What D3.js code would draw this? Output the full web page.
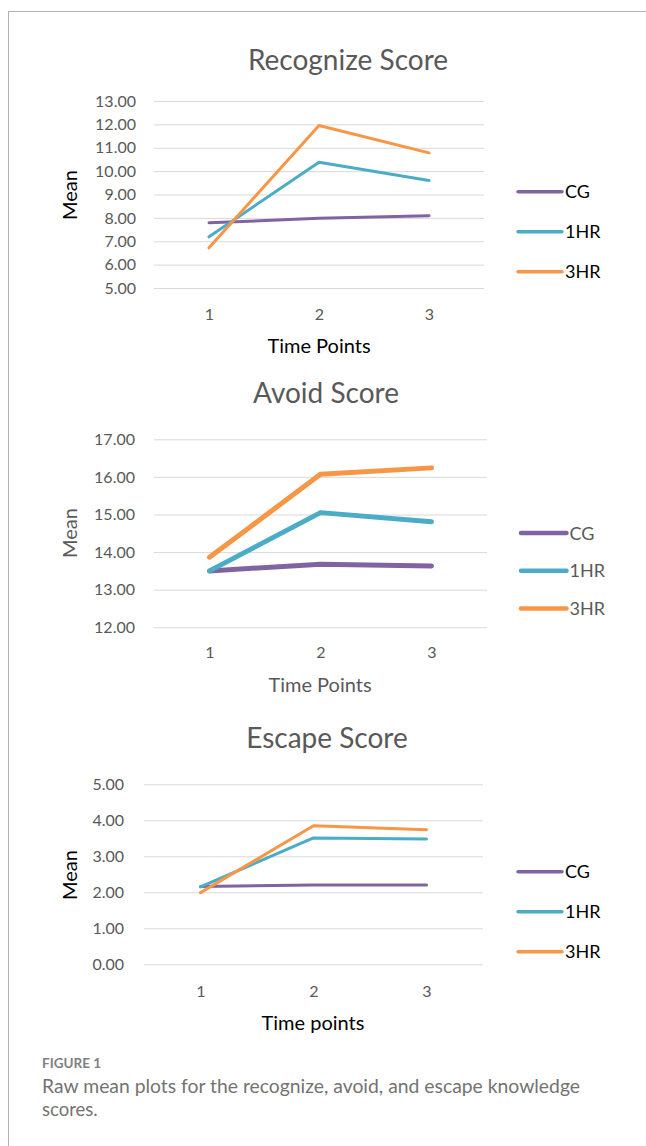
<!DOCTYPE html>
<html>
<head>
<meta charset="utf-8">
<script src="https://cdn.jsdelivr.net/npm/d3@7"></script>
<style>
  html, body { margin: 0; padding: 0; background: #fff; }
  svg { display: block; }
</style>
</head>
<body>
<svg id="fig" width="646" height="1146"></svg>
<script>
// Time points shared by all three panels
const timePoints = ["1", "2", "3"];
const groups = ["CG", "1HR", "3HR"];

// Recognize score means
const recognizeCG  = [7.79, 7.98, 8.09];
const recognize1HR = [7.19, 10.38, 9.60];
const recognize3HR = [6.72, 11.95, 10.78];
const recognizeTicks = [5, 6, 7, 8, 9, 10, 11, 12, 13];

// Avoid score means
const avoidCG  = [13.50, 13.68, 13.63];
const avoid1HR = [13.50, 15.05, 14.81];
const avoid3HR = [13.86, 16.07, 16.24];
const avoidTicks = [12, 13, 14, 15, 16, 17];

// Escape score means
const escapeCG  = [2.16, 2.20, 2.20];
const escape1HR = [2.15, 3.51, 3.48];
const escape3HR = [1.99, 3.85, 3.74];
const escapeTicks = [0, 1, 2, 3, 4, 5];

const colors = { "CG": "#8064a2", "1HR": "#4bacc6", "3HR": "#f79646" };
const FONT = "Lato, 'Open Sans', sans-serif";

const svg = d3.select("#fig");

// Frame: thin rule across the top and down the left side
svg.append("line").attr("x1", 8).attr("x2", 646).attr("y1", 11.5).attr("y2", 11.5)
  .attr("stroke", "#b0b0b0").attr("stroke-width", 1);
svg.append("line").attr("x1", 8.5).attr("x2", 8.5).attr("y1", 11).attr("y2", 1146)
  .attr("stroke", "#b0b0b0").attr("stroke-width", 1);

function drawPanel(p) {
  const g = svg.append("g");
  const y = d3.scaleLinear().domain(p.domain).range([p.bottom, p.top]);
  const x = d3.scalePoint().domain(timePoints).range([p.left, p.right]).padding(0.5);

  // Title
  g.append("text").attr("x", p.titleX).attr("y", p.titleY)
    .attr("text-anchor", "middle").attr("font-family", FONT)
    .attr("font-size", 28).attr("fill", "#595959").text(p.title);

  // Horizontal gridlines with value labels
  const yAxis = d3.axisLeft(y).tickValues(p.ticks).tickSize(-(p.right - p.left))
    .tickFormat(d3.format(".2f")).tickPadding(18);
  const ya = g.append("g").attr("transform", `translate(${p.left},0)`).call(yAxis);
  ya.select(".domain").remove();
  ya.selectAll(".tick line").attr("stroke", "#d9d9d9").attr("stroke-width", 1);
  ya.selectAll(".tick text").attr("font-family", FONT).attr("font-size", 16)
    .attr("fill", "#595959").attr("x", p.tickLabelRight - p.left);

  // Time point labels
  const xAxis = d3.axisBottom(x).tickSize(0).tickPadding(0);
  const xa = g.append("g").attr("transform", `translate(0,${p.bottom})`).call(xAxis);
  xa.select(".domain").remove();
  xa.selectAll(".tick text").attr("font-family", FONT).attr("font-size", 16)
    .attr("fill", "#595959").attr("dy", 0).attr("y", p.xTickY - p.bottom);

  // Axis titles
  g.append("text").attr("x", p.xTitleX).attr("y", p.xTitleY)
    .attr("text-anchor", "middle").attr("font-family", FONT)
    .attr("font-size", 20).attr("fill", p.axisTitleColor).text(p.xTitle);
  g.append("text")
    .attr("transform", `translate(${p.yTitleX},${p.yTitleY}) rotate(-90)`)
    .attr("text-anchor", "middle").attr("font-family", FONT)
    .attr("font-size", 20).attr("fill", p.axisTitleColor).text("Mean");

  // Series lines
  const line = d3.line().x((d, i) => x(timePoints[i])).y(d => y(d));
  groups.forEach((name, k) => {
    g.append("path").datum(p.series[k])
      .attr("d", line).attr("fill", "none")
      .attr("stroke", colors[name]).attr("stroke-width", p.lineWidth)
      .attr("stroke-linecap", "round").attr("stroke-linejoin", "round");
  });

  // Legend
  groups.forEach((name, k) => {
    const ly = p.legendY + k * p.legendGap;
    g.append("line").attr("x1", p.legendX1).attr("x2", p.legendX2)
      .attr("y1", ly).attr("y2", ly)
      .attr("stroke", colors[name]).attr("stroke-width", p.legendWidth)
      .attr("stroke-linecap", "round");
    g.append("text").attr("x", p.legendX2 + 3).attr("y", ly + 6.5)
      .attr("font-family", FONT).attr("font-size", 18)
      .attr("fill", p.legendColor).text(name);
  });
}

drawPanel({
  title: "Recognize Score", titleX: 348, titleY: 70,
  domain: [5, 13], ticks: recognizeTicks,
  top: 101, bottom: 288, left: 154, right: 484, tickLabelRight: 136,
  xTickY: 320, xTitle: "Time Points", xTitleX: 319, xTitleY: 353,
  yTitleX: 77, yTitleY: 195, axisTitleColor: "#000",
  series: [recognizeCG, recognize1HR, recognize3HR], lineWidth: 3,
  legendX1: 518, legendX2: 562, legendY: 191.7, legendGap: 40, legendWidth: 3.5,
  legendColor: "#000"
});

drawPanel({
  title: "Avoid Score", titleX: 326, titleY: 403,
  domain: [12, 17], ticks: avoidTicks,
  top: 439.3, bottom: 627.3, left: 154, right: 487, tickLabelRight: 135,
  xTickY: 658, xTitle: "Time Points", xTitleX: 320, xTitleY: 692,
  yTitleX: 77, yTitleY: 533, axisTitleColor: "#595959",
  series: [avoidCG, avoid1HR, avoid3HR], lineWidth: 5,
  legendX1: 521, legendX2: 566.5, legendY: 533, legendGap: 37.7, legendWidth: 4.5,
  legendColor: "#595959"
});

drawPanel({
  title: "Escape Score", titleX: 327, titleY: 748,
  domain: [0, 5], ticks: escapeTicks,
  top: 784.3, bottom: 964.3, left: 144, right: 483, tickLabelRight: 124,
  xTickY: 997, xTitle: "Time points", xTitleX: 313, xTitleY: 1030,
  yTitleX: 77, yTitleY: 875, axisTitleColor: "#000",
  series: [escapeCG, escape1HR, escape3HR], lineWidth: 3,
  legendX1: 518, legendX2: 562, legendY: 871.7, legendGap: 40, legendWidth: 3.5,
  legendColor: "#000"
});

// Caption
svg.append("text").attr("x", 42).attr("y", 1068)
  .attr("font-family", FONT).attr("font-size", 13.5).attr("font-weight", 700)
  .attr("fill", "#7f7f7f").text("FIGURE 1");
svg.append("text").attr("x", 42).attr("y", 1093)
  .attr("font-family", FONT).attr("font-size", 18.5).attr("fill", "#737373")
  .attr("textLength", 538).attr("lengthAdjust", "spacingAndGlyphs")
  .text("Raw mean plots for the recognize, avoid, and escape knowledge");
svg.append("text").attr("x", 42).attr("y", 1116)
  .attr("font-family", FONT).attr("font-size", 18.5).attr("fill", "#737373")
  .text("scores.");
</script>
</body>
</html>
